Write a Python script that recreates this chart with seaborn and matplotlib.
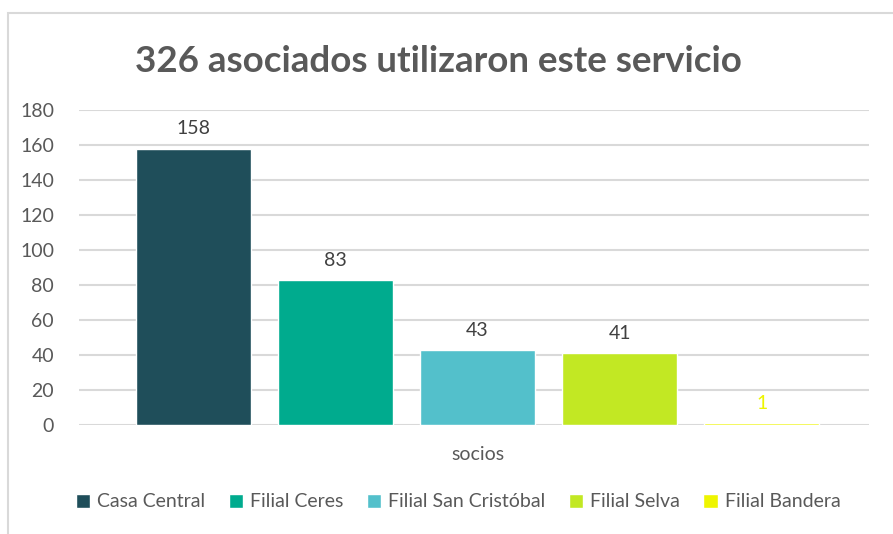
import matplotlib
matplotlib.use("Agg")
import matplotlib.pyplot as plt
import seaborn as sns
import pandas as pd

# data
sucursales = ["Casa Central", "Filial Ceres", "Filial San Cristóbal", "Filial Selva", "Filial Bandera"]
socios = [158, 83, 43, 41, 1]
colores = ["#1F4E5A", "#00AB8E", "#53C0CB", "#C2E823", "#EEF500"]
categoria = "socios"
titulo = "326 asociados utilizaron este servicio"

df = pd.DataFrame({"grupo": [categoria] * len(sucursales), "sucursal": sucursales, "valor": socios})

sns.set_theme(style="white")
plt.rcParams["font.family"] = ["Lato", "DejaVu Sans"]
texto = "#595959"

fig = plt.figure(figsize=(8.93, 5.34), dpi=100)
ax = fig.add_axes([0.0885, 0.204, 0.8845, 0.59])

sns.barplot(data=df, x="grupo", y="valor", hue="sucursal", hue_order=sucursales,
            palette=colores, width=0.9, gap=0.19, saturation=1, ax=ax, legend=True)

ax.set_ylim(0, 180)
ax.set_yticks(range(0, 181, 20))
ax.set_xlim(-0.5045, 0.4955)
ax.yaxis.grid(True, color="#D9D9D9", linewidth=1.5)
ax.set_axisbelow(True)
for s in ax.spines.values():
    s.set_visible(False)
ax.tick_params(axis="both", length=0, labelsize=14, labelcolor=texto)
ax.tick_params(axis="x", pad=15)
ax.tick_params(axis="y", pad=18)
ax.set_xlabel("")
ax.set_ylabel("")

# value labels
for cont, col in zip(ax.containers, colores):
    lab_color = col if col == colores[-1] else "#404040"
    ax.bar_label(cont, padding=8, fontsize=14, color=lab_color)

fig.text(0.491, 0.885, titulo, ha="center", va="center", fontsize=26.5,
         fontweight="bold", color=texto)

handles, labels = ax.get_legend_handles_labels()
ax.legend(handles, labels, loc="center", bbox_to_anchor=(0.513, 0.06),
          bbox_transform=fig.transFigure, ncol=5, frameon=False, fontsize=14,
          labelcolor=texto, handlelength=0.75, handleheight=0.75,
          handletextpad=0.35, columnspacing=1.2)

# chart border (only top and left visible in the crop)
borde = plt.Rectangle((8 / 893, -0.05), 1.2, 1.05 - 13 / 534, transform=fig.transFigure,
                      fill=False, edgecolor="#D9D9D9", linewidth=1.5)
fig.add_artist(borde)

fig.savefig("out.png", dpi=100)
